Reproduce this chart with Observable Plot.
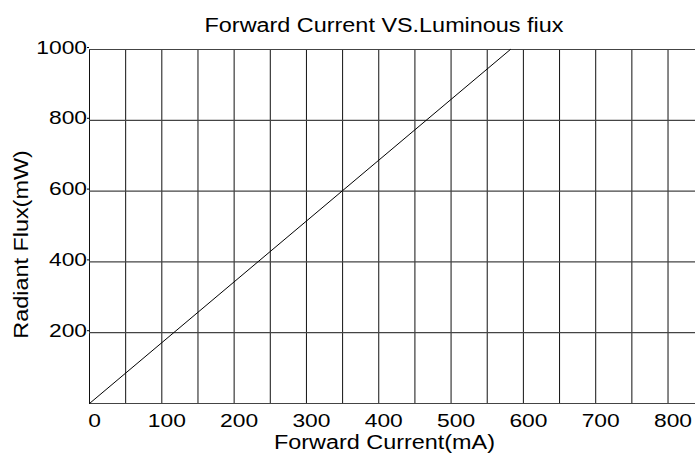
<!DOCTYPE html>
<html>
<head>
<meta charset="utf-8">
<script src="https://cdn.jsdelivr.net/npm/d3@7"></script>
<script src="https://cdn.jsdelivr.net/npm/@observablehq/plot@0.6"></script>
<style>
  html, body { margin: 0; padding: 0; background: #fff; overflow: hidden; }
  svg { display: block; }
</style>
</head>
<body>
<div id="chart"></div>
<script>
// Data
const forwardCurrent = [0, 582];          // mA
const radiantFlux = [0, 1000];            // mW
const xTickLabels = [0, 100, 200, 300, 400, 500, 600, 700, 800];
const xGridTicks = [0, 50, 100, 150, 200, 250, 300, 350, 400, 450, 500, 550, 600, 650, 700, 750, 800];
const yTickLabels = [0, 200, 400, 600, 800, 1000];
const yLabelTicks = [200, 400, 600, 800, 1000];
const chartTitle = "Forward Current VS.Luminous fiux";
const xTitle = "Forward Current(mA)";
const yTitle = "Radiant Flux(mW)";

const data = forwardCurrent.map((c, i) => ({current: c, flux: radiantFlux[i]}));

const FONT = "'Liberation Sans', Arial, sans-serif";

const plot = Plot.plot({
  width: 695,
  height: 459,
  marginLeft: 89,
  marginRight: 0,
  marginTop: 49,
  marginBottom: 56,
  style: {fontFamily: FONT, background: "#fff", color: "#000"},
  x: {domain: [0, 838]},
  y: {domain: [0, 1000]},
  marks: [
    Plot.gridX(xGridTicks, {stroke: "#111", strokeOpacity: 1, strokeWidth: 1}),
    Plot.gridY(yTickLabels, {stroke: "#444", strokeOpacity: 1, strokeWidth: 1.2}),
    Plot.axisX(xTickLabels, {tickSize: 0, tickPadding: 10, fontSize: 19, dx: 5, label: null, fill: "#000", tickFormat: d => String(d)}),
    Plot.axisY(yLabelTicks, {tickSize: 2, tickPadding: 0.5, fontSize: 19, dy: -2, label: null, fill: "#000", stroke: "#000", tickFormat: d => String(d)}),
    Plot.line(data, {x: "current", y: "flux", stroke: "#000", strokeWidth: 1}),
    Plot.text([chartTitle], {frameAnchor: "top", textAnchor: "middle", dx: -8.5, dy: -31, fontSize: 19.5, fill: "#000"}),
    Plot.text([xTitle], {frameAnchor: "bottom", textAnchor: "middle", dx: -8, dy: 45, fontSize: 19.5, fill: "#000"}),
    Plot.text([yTitle], {frameAnchor: "left", textAnchor: "middle", dx: -68, dy: 18, rotate: -90, fontSize: 19.5, fill: "#000"})
  ]
});

document.getElementById("chart").appendChild(plot);

// Horizontal stretch of text glyphs to match the reference's widened lettering
const STRETCH = 1.2;
plot.querySelectorAll("text").forEach(t => {
  const w = t.getComputedTextLength();
  if (w > 0) {
    t.setAttribute("textLength", (w * STRETCH).toFixed(2));
    t.setAttribute("lengthAdjust", "spacingAndGlyphs");
  }
});
</script>
</body>
</html>
